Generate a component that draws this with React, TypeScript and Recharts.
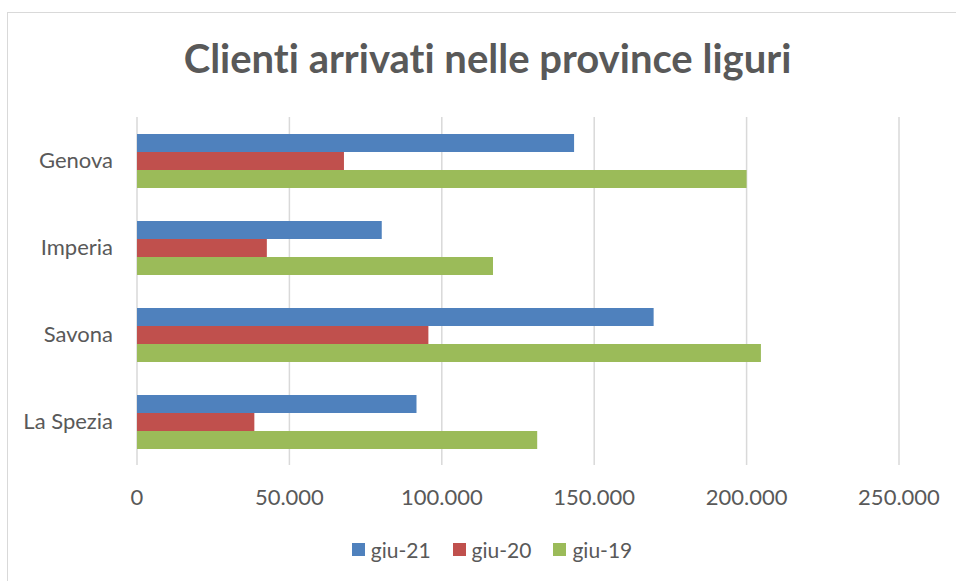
import React from 'react';
import { BarChart, Bar, XAxis, YAxis, CartesianGrid, Legend } from 'recharts';

const categories = ['Genova', 'Imperia', 'Savona', 'La Spezia'];
const seriesNames = ['giu-21', 'giu-20', 'giu-19'];
const giu21 = [143400, 80300, 169500, 91700];
const giu20 = [67900, 42600, 95600, 38500];
const giu19 = [200000, 116800, 204700, 131300];
const xTicks = [0, 50000, 100000, 150000, 200000, 250000];
const colors = ['#4F81BD', '#C0504D', '#9BBB59'];
const title = 'Clienti arrivati nelle province liguri';

const data = categories.map((c, i) => ({
  name: c,
  [seriesNames[0]]: giu21[i],
  [seriesNames[1]]: giu20[i],
  [seriesNames[2]]: giu19[i],
}));

const fmt = (v: number) => String(Math.round(v)).replace(/\B(?=(\d{3})+(?!\d))/g, '.');

const FONT = 'Lato, "Open Sans", sans-serif';
const TEXT = '#595959';

const renderLegend = (props: any) => {
  const payload = [...(props.payload || [])].sort(
    (a: any, b: any) => seriesNames.indexOf(a.value) - seriesNames.indexOf(b.value)
  );
  return (
    <div style={{ display: 'flex', justifyContent: 'center', alignItems: 'center', paddingLeft: 28, fontFamily: FONT, fontSize: 21, color: TEXT }}>
      {payload.map((p: any, i: number) => (
        <div key={i} style={{ display: 'flex', alignItems: 'center', marginRight: i < payload.length - 1 ? 22 : 0 }}>
          <span style={{ display: 'inline-block', width: 13, height: 13, background: p.color, marginRight: 6 }} />
          <span>{p.value}</span>
        </div>
      ))}
    </div>
  );
};

export default function App() {
  return (
    <div style={{ position: 'absolute', left: 0, top: 0, width: 956, height: 581, background: '#fff', overflow: 'hidden' }}>
      <div style={{ position: 'absolute', left: 7, top: 12, width: 970, height: 600, border: '1px solid #D9D9D9', boxSizing: 'border-box' }} />
      <BarChart
        width={956}
        height={581}
        data={data}
        layout="vertical"
        margin={{ top: 117, right: 57, bottom: 76, left: 0 }}
        barGap={0}
        barSize={18}
      >
        <CartesianGrid horizontal={false} stroke="#D9D9D9" strokeWidth={1.5} />
        <XAxis
          type="number"
          domain={[0, 250000]}
          ticks={xTicks}
          tickFormatter={fmt}
          axisLine={false}
          tickLine={false}
          tickSize={0}
          tickMargin={24}
          height={40}
          interval={0}
          tick={{ fill: TEXT, fontSize: 22, fontFamily: FONT }}
        />
        <YAxis
          type="category"
          dataKey="name"
          width={137}
          axisLine={false}
          tickLine={false}
          tickSize={0}
          tickMargin={24}
          interval={0}
          tick={{ fill: TEXT, fontSize: 22, fontFamily: FONT }}
        />
        <Legend
          layout="horizontal"
          verticalAlign="middle"
          align="center"
          content={renderLegend}
          wrapperStyle={{ top: 537, left: 0, width: 956 }}
        />
        {seriesNames.map((s, i) => (
          <Bar key={s} dataKey={s} fill={colors[i]} isAnimationActive={false} />
        ))}
      </BarChart>
      <svg width={956} height={581} style={{ position: 'absolute', left: 0, top: 0, pointerEvents: 'none' }}>
        <text
          x={487.5}
          y={72.7}
          textAnchor="middle"
          fontFamily={FONT}
          fontWeight={700}
          fontSize={40}
          fill={TEXT}
          style={{ fontVariantLigatures: 'none', fontFeatureSettings: '"liga" 0, "clig" 0' }}
        >
          {title}
        </text>
      </svg>
    </div>
  );
}
